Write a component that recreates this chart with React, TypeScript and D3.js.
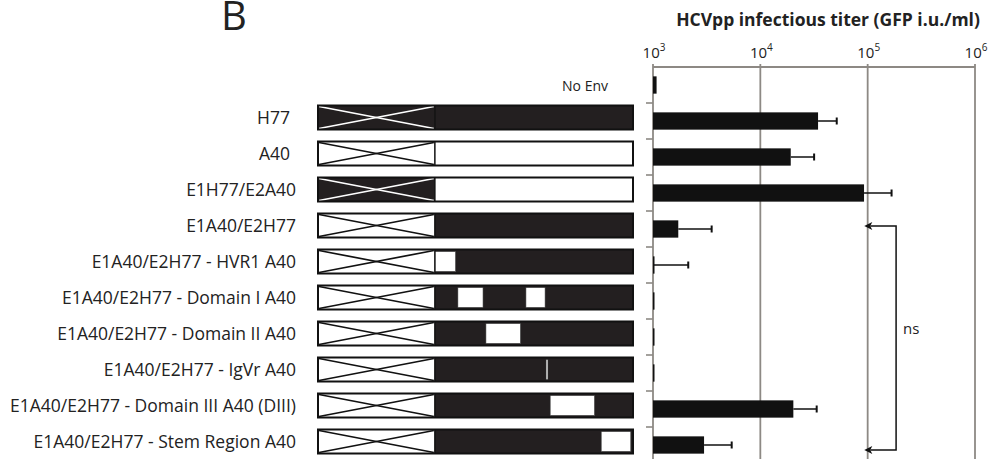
import React from "react";
import * as d3 from "d3";

const labels = [
  "No Env",
  "H77",
  "A40",
  "E1H77/E2A40",
  "E1A40/E2H77",
  "E1A40/E2H77 - HVR1 A40",
  "E1A40/E2H77 - Domain I A40",
  "E1A40/E2H77 - Domain II A40",
  "E1A40/E2H77 - IgVr A40",
  "E1A40/E2H77 - Domain III A40 (DIII)",
  "E1A40/E2H77 - Stem Region A40",
];
const titers = [1080, 34500, 19200, 92500, 1720, 1010, 1005, 1005, 1005, 20300, 2990];
const titerUpper = [null, 51500, 31700, 167000, 3520, 2130, null, null, null, 33500, 5410];
const e1Source = [null, "H77", "A40", "H77", "A40", "A40", "A40", "A40", "A40", "A40", "A40"];
const e2Source = [null, "H77", "A40", "A40", "H77", "H77", "H77", "H77", "H77", "H77", "H77"];
// A40 segments inserted into H77 E2 (schematic % position)
const a40Inserts: number[][][] = [
  [], [], [], [], [],
  [[37.1, 43.7]],
  [[44.4, 52.4], [66.0, 72.1]],
  [[53.3, 64.3]],
  [[72.4, 73.0]],
  [[73.7, 87.8]],
  [[89.9, 99.3]],
];
const e1End = 37.1;
const tickExps = [3, 4, 5, 6];
const nsRows = [4, 10];

const W = 990, H = 459;
const DARK = "#231f20";
const GRID = "#8d8984";

export default function App() {
  const x = d3.scaleLog().domain([1e3, 1e6]).range([653, 975]);
  const y = d3.scaleBand<string>().domain(labels).range([67, 463]).paddingInner(0.52).paddingOuter(0.26);
  const bw = y.bandwidth();
  const step = y.step();
  const cy = (i: number) => (y(labels[i]) as number) + bw / 2;
  const sx = d3.scaleLinear().domain([0, 100]).range([318, 633]);
  const boxH = 24;
  const sOff = -3.5;
  const fill = (s: string | null) => (s === "H77" ? DARK : "#fff");

  const bracketX = x(1.84e5);
  const tipX = x(0.93e5);

  return (
    <svg width={W} height={H} style={{ position: "absolute", left: 0, top: 0, background: "#fff" }}
      fontFamily="'Open Sans', sans-serif">
      <text x={221} y={30} fontSize={40} fill="#222">B</text>
      <text x={828} y={26} fontSize={17.5} fontWeight="bold" textAnchor="middle" fill="#222">
        HCVpp infectious titer (GFP i.u./ml)
      </text>
      {/* tick labels */}
      {tickExps.map((e) => (
        <text key={e} x={x(Math.pow(10, e)) + 1} y={58} fontSize={15} textAnchor="middle" fill="#222">
          10<tspan dy={-7} fontSize={10}>{e}</tspan>
        </text>
      ))}
      {/* grid */}
      {tickExps.map((e) => (
        <line key={"g" + e} x1={x(Math.pow(10, e))} x2={x(Math.pow(10, e))} y1={64} y2={H}
          stroke={GRID} strokeWidth={1.8} />
      ))}
      <line x1={x(1e3)} x2={x(1e6)} y1={67} y2={67} stroke={GRID} strokeWidth={1.8} />
      {labels.slice(1).map((l, i) => {
        const ty = (y(l) as number) - (step * 0.52) / 2;
        return <line key={"t" + i} x1={x(1e3) - 7} x2={x(1e3)} y1={ty} y2={ty} stroke={GRID} strokeWidth={1.6} />;
      })}
      {/* bars */}
      {titers.map((v, i) => (
        <rect key={"b" + i} x={x(1e3)} y={y(labels[i])} width={Math.max(x(v) - x(1e3), 1.5)} height={bw} fill="#111" />
      ))}
      {titerUpper.map((u, i) =>
        u == null ? null : (
          <g key={"e" + i} stroke="#111">
            <line x1={x(titers[i])} x2={x(u)} y1={cy(i)} y2={cy(i)} strokeWidth={1.5} />
            <line x1={x(u)} x2={x(u)} y1={cy(i) - 3.5} y2={cy(i) + 3.5} strokeWidth={2} />
          </g>
        )
      )}
      {/* labels */}
      {labels.map((l, i) =>
        i === 0 ? (
          <text key={"l" + i} x={608} y={cy(i) + 1} dy="0.35em" fontSize={14} textAnchor="end" fill="#222">{l}</text>
        ) : (
          <text key={"l" + i} x={l.length <= 3 ? 290 : 296} y={cy(i) + sOff} dy="0.35em" fontSize={17.5}
            textAnchor="end" fill="#222">{l}</text>
        )
      )}
      {/* schematics */}
      {labels.map((l, i) => {
        if (i === 0) return null;
        const top = cy(i) + sOff - boxH / 2;
        const x0 = sx(0), x1 = sx(e1End), x2 = sx(100);
        const crossCol = e1Source[i] === "H77" ? "#fff" : "#111";
        return (
          <g key={"s" + i}>
            <rect x={x1} y={top} width={x2 - x1} height={boxH} fill={fill(e2Source[i])} />
            {a40Inserts[i].map(([a, b], k) => (
              <rect key={k} x={sx(a)} y={top + 2} width={sx(b) - sx(a)} height={boxH - 4} fill="#fff"
                stroke="#333" strokeWidth={0.6} />
            ))}
            <rect x={x0} y={top} width={x1 - x0} height={boxH} fill={fill(e1Source[i])} />
            <line x1={x0 + 1} y1={top + 1} x2={x1 - 1} y2={top + boxH - 1} stroke={crossCol} strokeWidth={1.7} />
            <line x1={x0 + 1} y1={top + boxH - 1} x2={x1 - 1} y2={top + 1} stroke={crossCol} strokeWidth={1.7} />
            <rect x={x0} y={top} width={x2 - x0} height={boxH} fill="none" stroke="#111" strokeWidth={2} />
            <line x1={x1} x2={x1} y1={top} y2={top + boxH} stroke="#111" strokeWidth={1.5} />
          </g>
        );
      })}
      {/* ns bracket */}
      {(() => {
        const yTop = cy(nsRows[0]) - 3;
        const yBot = cy(nsRows[1]) + 5;
        return (
          <g>
            <path d={`M${tipX + 6},${yTop} H${bracketX} V${yBot} H${tipX + 6}`} fill="none" stroke="#111" strokeWidth={1.5} />
            <path d={`M${tipX},${yTop} l8,-4 l-2,4 l2,4 z`} fill="#111" />
            <path d={`M${tipX},${yBot} l8,-4 l-2,4 l2,4 z`} fill="#111" />
            <text x={bracketX + 7} y={(yTop + yBot) / 2 - 9} dy="0.35em" fontSize={15} fill="#222">ns</text>
          </g>
        );
      })()}
    </svg>
  );
}
